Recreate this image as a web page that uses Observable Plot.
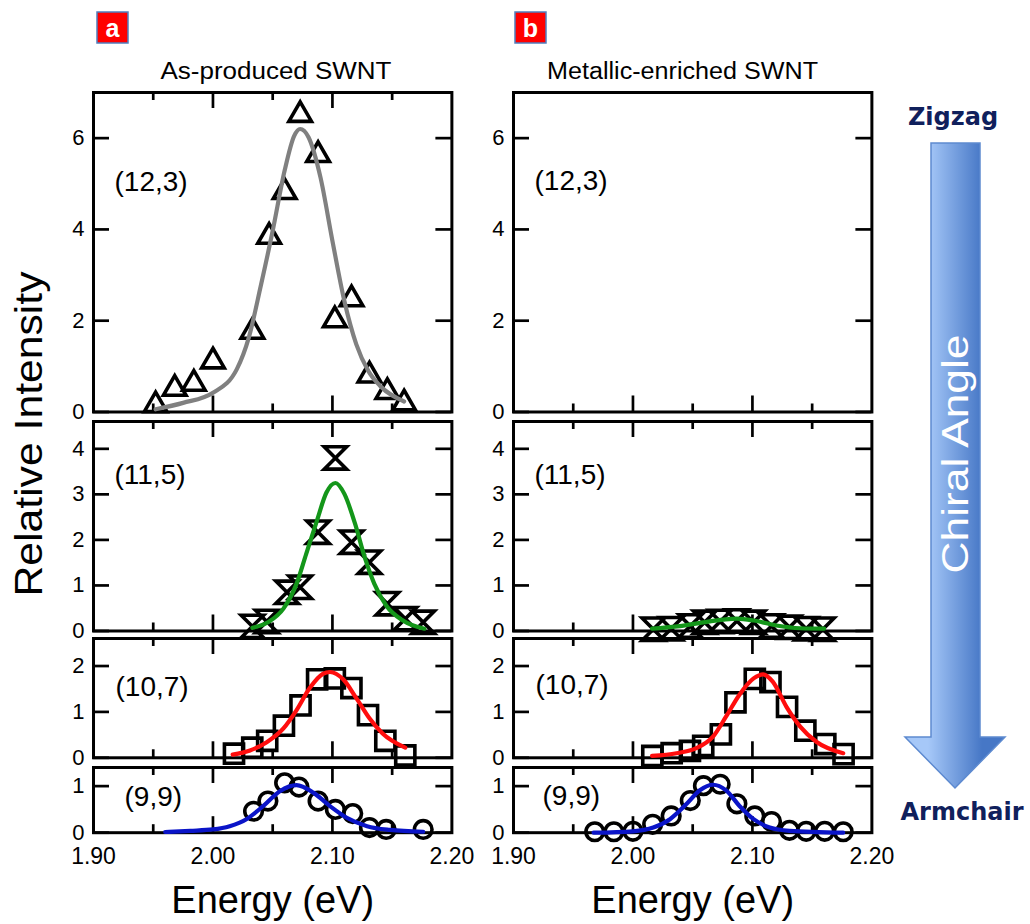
<!DOCTYPE html>
<html><head><meta charset="utf-8">
<script src="https://cdn.jsdelivr.net/npm/d3@7"></script>
<script src="https://cdn.jsdelivr.net/npm/@observablehq/plot@0.6"></script>
<style>
html,body{margin:0;padding:0;background:#fff;}
#wrap{position:relative;width:1030px;height:924px;overflow:hidden;background:#fff;font-family:"Liberation Sans",Arial,sans-serif;}
#wrap svg.panel{position:absolute;}
#ov{position:absolute;left:0;top:0;pointer-events:none;}
</style></head>
<body><div id="wrap"></div>
<script>
// ---------------- data ----------------
const SPECIES = ["(12,3)", "(11,5)", "(10,7)", "(9,9)"];
const X_LABEL_TICKS = [1.90, 2.00, 2.10, 2.20];
const X_MAJOR = [2.00, 2.10];
const X_MINOR = [1.95, 2.05, 2.15];
const Y_TICKS_123 = [0, 2, 4, 6];
const Y_TICKS_115 = [0, 1, 2, 3, 4];
const Y_TICKS_107 = [0, 1, 2];
const Y_TICKS_99 = [0, 1];

// (a) As-produced SWNT
const E_123_A = [1.952, 1.968, 1.984, 2.000, 2.033, 2.047, 2.060, 2.073, 2.088, 2.102, 2.116, 2.131, 2.146, 2.160];
const I_123_A = [0.15, 0.51, 0.62, 1.11, 1.76, 3.84, 4.82, 6.51, 5.63, 2.01, 2.47, 0.80, 0.44, 0.19];
const FIT_E_123_A = [1.952, 1.975, 2.000, 2.020, 2.030, 2.040, 2.050, 2.060, 2.068, 2.073, 2.080, 2.090, 2.100, 2.110, 2.120, 2.130, 2.140, 2.160];
const FIT_I_123_A = [0.06, 0.20, 0.42, 0.94, 1.63, 2.76, 3.97, 5.29, 6.05, 6.20, 6.02, 5.14, 3.75, 2.43, 1.48, 0.90, 0.57, 0.23];

const E_115_A = [2.033, 2.045, 2.062, 2.073, 2.088, 2.1025, 2.116, 2.131, 2.146, 2.161, 2.176];
const I_115_A = [0.10, 0.21, 0.85, 0.96, 2.17, 3.80, 1.95, 1.51, 0.60, 0.27, 0.19];
const FIT_E_115_A = [2.033, 2.046, 2.059, 2.070, 2.078, 2.087, 2.095, 2.1025, 2.110, 2.119, 2.127, 2.135, 2.145, 2.159, 2.177];
const FIT_I_115_A = [0.07, 0.19, 0.49, 1.04, 1.69, 2.42, 3.04, 3.25, 3.01, 2.35, 1.62, 1.04, 0.56, 0.23, 0.05];

const E_107_A = [2.0176, 2.0329, 2.0454, 2.0594, 2.0733, 2.0872, 2.102, 2.1159, 2.1298, 2.1443, 2.161];
const I_107_A = [0.09, 0.22, 0.37, 0.70, 1.14, 1.71, 1.73, 1.52, 0.93, 0.37, 0.05];
const FIT_E_107_A = [2.0165, 2.031, 2.045, 2.059, 2.070, 2.081, 2.092, 2.098, 2.109, 2.120, 2.131, 2.142, 2.161];
const FIT_I_107_A = [0.07, 0.16, 0.34, 0.64, 1.04, 1.52, 1.83, 1.87, 1.71, 1.30, 0.86, 0.53, 0.22];

const E_99_A = [2.034, 2.046, 2.060, 2.072, 2.088, 2.1025, 2.117, 2.131, 2.145, 2.176];
const I_99_A = [0.46, 0.68, 1.07, 0.98, 0.68, 0.50, 0.41, 0.11, 0.07, 0.07];
const FIT_E_99_A = [1.960, 1.981, 2.000, 2.014, 2.028, 2.042, 2.056, 2.070, 2.084, 2.098, 2.112, 2.129, 2.148, 2.176];
const FIT_I_99_A = [0.015, 0.04, 0.07, 0.14, 0.29, 0.57, 0.89, 1.02, 0.86, 0.57, 0.32, 0.14, 0.06, 0.02];

// (b) Metallic-enriched SWNT  ((12,3) has no signal)
const E_115_B = [2.017, 2.032, 2.048, 2.060, 2.073, 2.087, 2.101, 2.116, 2.131, 2.145, 2.159];
const I_115_B = [0.04, 0.05, 0.11, 0.19, 0.21, 0.22, 0.19, 0.11, 0.08, 0.05, 0.04];
const FIT_E_115_B = [2.016, 2.037, 2.059, 2.076, 2.087, 2.101, 2.120, 2.140, 2.160];
const FIT_I_115_B = [0.05, 0.10, 0.19, 0.25, 0.27, 0.23, 0.12, 0.06, 0.05];

const E_107_B = [2.0162, 2.0324, 2.0477, 2.0588, 2.0736, 2.0858, 2.102, 2.1151, 2.129, 2.1443, 2.161, 2.1763];
const I_107_B = [0.04, 0.10, 0.15, 0.26, 0.51, 1.21, 1.72, 1.65, 1.11, 0.59, 0.30, 0.08];
const FIT_E_107_B = [2.016, 2.0365, 2.053, 2.067, 2.078, 2.089, 2.101, 2.109, 2.117, 2.1285, 2.140, 2.1535, 2.176];
const FIT_I_107_B = [0.04, 0.10, 0.21, 0.46, 0.90, 1.37, 1.73, 1.82, 1.66, 1.11, 0.68, 0.35, 0.10];

const E_99_B = [1.968, 1.984, 2.000, 2.0165, 2.032, 2.048, 2.059, 2.073, 2.087, 2.102, 2.116, 2.131, 2.145, 2.1605, 2.176];
const I_99_B = [0.02, 0.02, 0.03, 0.18, 0.36, 0.69, 1.01, 1.04, 0.62, 0.36, 0.24, 0.05, 0.03, 0.03, 0.02];
const FIT_E_99_B = [1.967, 2.000, 2.017, 2.031, 2.045, 2.056, 2.067, 2.078, 2.089, 2.101, 2.1145, 2.131, 2.176];
const FIT_I_99_B = [0.0, 0.03, 0.11, 0.29, 0.62, 0.91, 1.03, 0.91, 0.58, 0.29, 0.11, 0.04, 0.0];

// ---------------- layout / style ----------------
const COLS = {a: [93.3, 451.7], b: [513.3, 871.7]};
const ROWS = [[91.5, 411], [421, 630.5], [638, 757.3], [766.5, 831.7]];
const Y_MAX = [7, 4.6, 2.6, 1.4];
const Y_TICKS = [Y_TICKS_123, Y_TICKS_115, Y_TICKS_107, Y_TICKS_99];
const LABEL_POS = {a: [[21, 89.5], [21, 54], [22, 48.7], [31, 30]], b: [[21, 88.5], [21, 54], [22, 47], [29, 28.5]]};

const hourglass = {draw(ctx, size) {
  const r = Math.sqrt(size / Math.PI);
  ctx.moveTo(-r, -r); ctx.lineTo(r, -r); ctx.lineTo(-r, r); ctx.lineTo(r, r); ctx.closePath();
}};
const ROW_STYLE = [
  {symbol: "triangle", r: 8.4, color: "#808080"},
  {symbol: hourglass, r: 11.2, color: "#14961a"},
  {symbol: "square", r: 10.8, color: "#ff0d0d"},
  {symbol: "circle", r: 8.8, color: "#0a14c8"}
];

const SERIES = {
  a: [
    {e: E_123_A, i: I_123_A, fe: FIT_E_123_A, fi: FIT_I_123_A},
    {e: E_115_A, i: I_115_A, fe: FIT_E_115_A, fi: FIT_I_115_A},
    {e: E_107_A, i: I_107_A, fe: FIT_E_107_A, fi: FIT_I_107_A},
    {e: E_99_A, i: I_99_A, fe: FIT_E_99_A, fi: FIT_I_99_A}
  ],
  b: [
    null,
    {e: E_115_B, i: I_115_B, fe: FIT_E_115_B, fi: FIT_I_115_B},
    {e: E_107_B, i: I_107_B, fe: FIT_E_107_B, fi: FIT_I_107_B},
    {e: E_99_B, i: I_99_B, fe: FIT_E_99_B, fi: FIT_I_99_B}
  ]
};

const wrap = document.getElementById("wrap");

function makePanel(col, row) {
  const [fl, fr] = COLS[col];
  const [ft, fb] = ROWS[row];
  const W = fr - fl, H = fb - ft;
  const mL = 60, mR = 20, mT = 15, mB = row === 3 ? 95 : 15;
  const st = ROW_STYLE[row];
  const sw = 2.7;
  const marks = [];
  marks.push(Plot.tickX(X_MAJOR, {x: d => d, insetTop: H - 16, stroke: "#000", strokeWidth: sw}));
  marks.push(Plot.tickX(X_MINOR, {x: d => d, insetTop: H - 8, stroke: "#000", strokeWidth: sw}));
  if (!(col === "b" && row === 0)) {
    marks.push(Plot.tickX(X_MAJOR, {x: d => d, insetBottom: H - 16, stroke: "#000", strokeWidth: sw}));
    marks.push(Plot.tickX(X_MINOR, {x: d => d, insetBottom: H - 8, stroke: "#000", strokeWidth: sw}));
  }
  marks.push(Plot.tickY(Y_TICKS[row], {y: d => d, insetRight: W - 16, stroke: "#000", strokeWidth: sw}));
  marks.push(Plot.tickY(Y_TICKS[row], {y: d => d, insetLeft: W - 16, stroke: "#000", strokeWidth: sw}));
  marks.push(Plot.frame({stroke: "#000", strokeWidth: 3}));
  marks.push(Plot.axisY(Y_TICKS[row], {tickSize: 0, tickPadding: 9, fontSize: 22, tickFormat: d => String(d), label: null, fill: "#000"}));
  if (row === 3) {
    marks.push(Plot.axisX(X_LABEL_TICKS, {tickSize: 0, tickPadding: 15, fontSize: 23, tickFormat: d => d.toFixed(2), label: null, fill: "#000"}));
    marks.push(Plot.text(["Energy (eV)"], {frameAnchor: "bottom", lineAnchor: "middle", dy: 68, fontSize: 38, fill: "#000"}));
  }
  const s = SERIES[col][row];
  if (s) {
    const pts = s.e.map((e, k) => ({e, v: s.i[k]}));
    const fit = s.fe.map((e, k) => ({e, v: s.fi[k]}));
    marks.push(Plot.dot(pts, {x: "e", y: "v", symbol: st.symbol, r: st.r, stroke: "#000", strokeWidth: 3.6, fill: "none", strokeLinejoin: "miter"}));
    marks.push(Plot.line(fit, {x: "e", y: "v", stroke: st.color, strokeWidth: 4.2, curve: "monotone-x"}));
  }
  const [ldx, ldy] = LABEL_POS[col][row];
  marks.push(Plot.text([SPECIES[row]], {frameAnchor: "top-left", lineAnchor: "middle", dx: ldx, dy: ldy, textAnchor: "start", fontSize: 28, fill: "#000"}));

  const p = Plot.plot({
    width: W + mL + mR, height: H + mT + mB,
    marginLeft: mL, marginRight: mR, marginTop: mT, marginBottom: mB,
    x: {domain: [1.9, 2.2], label: null, axis: row === 3 ? undefined : null},
    y: {domain: [0, Y_MAX[row]], label: null},
    style: {background: "transparent", overflow: "visible", fontFamily: "'Liberation Sans', Arial, sans-serif", color: "#000"},
    marks
  });
  p.classList.add("panel");
  p.style.left = (fl - mL) + "px";
  p.style.top = (ft - mT) + "px";
  p.style.maxWidth = "none";
  wrap.appendChild(p);
}

for (const col of ["a", "b"]) for (let r = 0; r < 4; r++) makePanel(col, r);

// ---------------- annotations ----------------
const NS = "http://www.w3.org/2000/svg";
const ov = document.createElementNS(NS, "svg");
ov.setAttribute("id", "ov"); ov.setAttribute("width", 1030); ov.setAttribute("height", 924);
ov.innerHTML = `
<defs>
  <linearGradient id="arrowGrad" gradientUnits="userSpaceOnUse" x1="928" y1="0" x2="982" y2="0">
    <stop offset="0" stop-color="#a6c8f8"/><stop offset="1" stop-color="#4677c6"/>
  </linearGradient>
</defs>
<rect x="97" y="12" width="31" height="31" fill="#ff0000" stroke="#4f7fbf" stroke-width="1.5"/>
<text x="112.5" y="37" text-anchor="middle" fill="#fff" font-size="25" font-weight="bold" font-family="Liberation Sans, Arial, sans-serif">a</text>
<rect x="515" y="12" width="31" height="31" fill="#ff0000" stroke="#4f7fbf" stroke-width="1.5"/>
<text x="530.5" y="37" text-anchor="middle" fill="#fff" font-size="25" font-weight="bold" font-family="Liberation Sans, Arial, sans-serif">b</text>
<text x="276" y="79" text-anchor="middle" font-size="23" font-family="Liberation Sans, Arial, sans-serif" textLength="231" lengthAdjust="spacingAndGlyphs">As-produced SWNT</text>
<text x="682.5" y="79" text-anchor="middle" font-size="23" font-family="Liberation Sans, Arial, sans-serif" textLength="271" lengthAdjust="spacingAndGlyphs">Metallic-enriched SWNT</text>
<text transform="translate(42,434) rotate(-90)" text-anchor="middle" font-size="38" font-family="Liberation Sans, Arial, sans-serif" textLength="325" lengthAdjust="spacingAndGlyphs">Relative Intensity</text>
<path d="M931,143 H980 V737 H1005 L955,788 L905,737 H931 Z" fill="url(#arrowGrad)" stroke="#5d8ad0" stroke-width="1.5"/>
<text transform="translate(968,454) rotate(-90)" text-anchor="middle" fill="#fff" font-size="36" font-family="Liberation Sans, Arial, sans-serif" textLength="239" lengthAdjust="spacingAndGlyphs">Chiral  Angle</text>
<text x="953" y="125" text-anchor="middle" fill="#10205c" font-size="24" font-weight="bold" font-family="DejaVu Sans, sans-serif">Zigzag</text>
<text x="962" y="820" text-anchor="middle" fill="#10205c" font-size="24" font-weight="bold" font-family="DejaVu Sans, sans-serif">Armchair</text>
`;
wrap.appendChild(ov);
</script>
</body></html>
